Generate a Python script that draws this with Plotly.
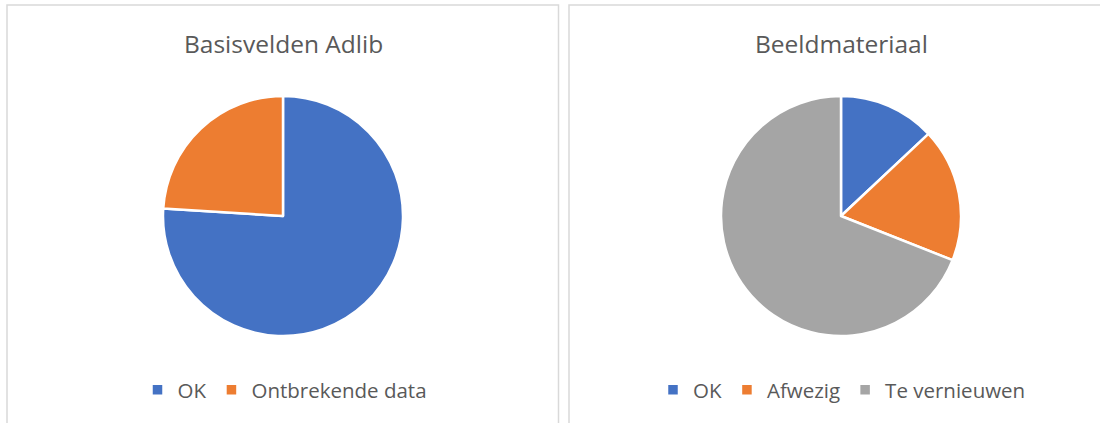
import plotly.graph_objects as go

W, H = 1100, 423

left_title = "Basisvelden Adlib"
left_labels = ["OK", "Ontbrekende data"]
left_values = [76, 24]

right_title = "Beeldmateriaal"
right_labels = ["OK", "Afwezig", "Te vernieuwen"]
right_values = [13, 18, 69]

colors = ["#4472C4", "#ED7D31", "#A5A5A5"]
FONT = "Open Sans, sans-serif"
TXT = "#595959"

def px(x):
    return x / W

def py(y):
    return 1 - y / H

fig = go.Figure()
fig.add_trace(go.Pie(
    labels=left_labels, values=left_values, sort=False, direction="clockwise", rotation=0,
    marker=dict(colors=colors[:2], line=dict(color="white", width=2.5)),
    textinfo="none", hoverinfo="label+percent",
    domain=dict(x=[px(163), px(403)], y=[py(336), py(96)]),
    legend="legend",
))
# zero-width space keeps right-hand legend entries distinct from left-hand ones
fig.add_trace(go.Pie(
    labels=[l + "\u200b" for l in right_labels], values=right_values, sort=False,
    direction="clockwise", rotation=0,
    marker=dict(colors=colors, line=dict(color="white", width=2.5)),
    textinfo="none", hoverinfo="label+percent",
    domain=dict(x=[px(721), px(961)], y=[py(336), py(96)]),
    legend="legend2",
))

shapes = [
    dict(type="rect", xref="paper", yref="paper", x0=px(7), x1=px(558.5), y0=py(440), y1=py(5),
         line=dict(color="#D9D9D9", width=1.5), fillcolor="rgba(0,0,0,0)", layer="below"),
    dict(type="rect", xref="paper", yref="paper", x0=px(569), x1=px(1120), y0=py(440), y1=py(5),
         line=dict(color="#D9D9D9", width=1.5), fillcolor="rgba(0,0,0,0)", layer="below"),
]

annotations = [
    dict(text=left_title, x=px(283), y=py(43), xref="paper", yref="paper", showarrow=False,
         xanchor="center", yanchor="middle", font=dict(family=FONT, size=24.5, color=TXT)),
    dict(text=right_title, x=px(841), y=py(43), xref="paper", yref="paper", showarrow=False,
         xanchor="center", yanchor="middle", font=dict(family=FONT, size=24.5, color=TXT)),
]

leg_common = dict(orientation="h", font=dict(family=FONT, size=20.5, color=TXT),
                  bgcolor="rgba(0,0,0,0)", itemwidth=30, yanchor="middle", xanchor="center",
                  itemclick=False, itemdoubleclick=False)

fig.update_layout(
    width=W, height=H,
    margin=dict(l=0, r=0, t=0, b=0),
    paper_bgcolor="white", plot_bgcolor="white",
    shapes=shapes, annotations=annotations,
    legend=dict(x=px(285), y=py(390), **leg_common),
    legend2=dict(x=px(842), y=py(390), **leg_common),
    showlegend=True,
)

fig.write_html("out.html", config={"displayModeBar": False},
               post_script="document.body.style.margin='0';")
